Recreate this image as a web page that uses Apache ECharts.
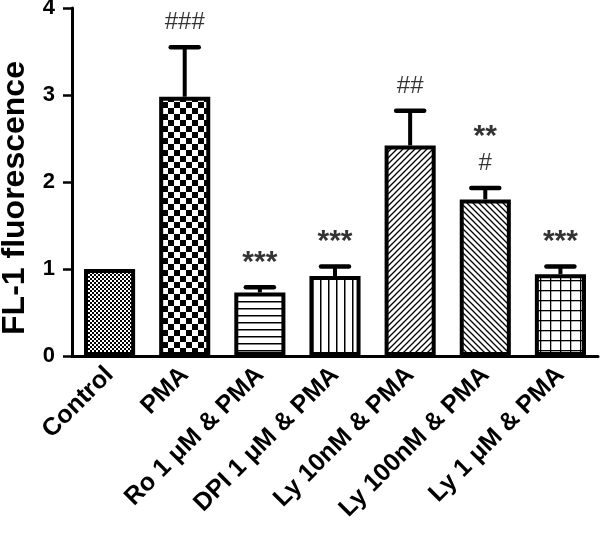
<!DOCTYPE html>
<html>
<head>
<meta charset="utf-8">
<script src="https://cdn.jsdelivr.net/npm/echarts@6/dist/echarts.min.js"></script>
<style>
  html, body { margin: 0; padding: 0; background: #fff; }
  #chart { width: 600px; height: 538px; }
</style>
</head>
<body>
<div id="chart"></div>
<script>
const categories = ['Control', 'PMA', 'Ro 1 μM & PMA', 'DPI 1 μM & PMA', 'Ly 10nM & PMA', 'Ly 100nM & PMA', 'Ly 1 μM & PMA']
const means = [1.0, 2.98, 0.73, 0.92, 2.42, 1.80, 0.94]
const errors = [0, 0.57, 0.06, 0.11, 0.40, 0.13, 0.09]
const marks = ['', '{h|###}', '{s|***}', '{s|***}', '{h|##}', '{s|**}\n{h|#}', '{s|***}']
const patterns = ['fine', 'checker', 'hlines', 'vlines', 'diag', 'anti', 'grid']
const yTicks = [0, 1, 2, 3, 4]

function makePattern(kind) {
  const c = document.createElement('canvas')
  const ctx = c.getContext('2d')
  const s = { fine: 4, checker: 12, hlines: 7, vlines: 8, diag: 6, anti: 6, grid: 10 }[kind]
  c.width = s; c.height = s
  ctx.fillStyle = '#fff'
  ctx.fillRect(0, 0, s, s)
  ctx.fillStyle = '#000'
  ctx.strokeStyle = '#000'
  ctx.lineWidth = 1.3
  if (kind === 'fine') {
    ctx.fillRect(0, 0, 2, 2); ctx.fillRect(2, 2, 2, 2)
  } else if (kind === 'checker') {
    ctx.fillRect(0, 0, 6, 6); ctx.fillRect(6, 6, 6, 6)
  } else if (kind === 'hlines') {
    ctx.fillRect(0, 0, s, 1.5)
  } else if (kind === 'vlines') {
    ctx.fillRect(0, 0, 1.5, s)
  } else if (kind === 'diag') {
    ctx.beginPath()
    ctx.moveTo(-1, s + 1); ctx.lineTo(s + 1, -1)
    ctx.moveTo(-1, 1); ctx.lineTo(1, -1)
    ctx.moveTo(s - 1, s + 1); ctx.lineTo(s + 1, s - 1)
    ctx.stroke()
  } else if (kind === 'anti') {
    ctx.beginPath()
    ctx.moveTo(-1, -1); ctx.lineTo(s + 1, s + 1)
    ctx.moveTo(s - 1, -1); ctx.lineTo(s + 1, 1)
    ctx.moveTo(-1, s - 1); ctx.lineTo(1, s + 1)
    ctx.stroke()
  } else if (kind === 'grid') {
    ctx.fillRect(0, 0, s, 1.3); ctx.fillRect(0, 0, 1.3, s)
  }
  return { image: c, repeat: 'repeat' }
}

const chart = echarts.init(document.getElementById('chart'))

const font = "'Liberation Sans', Arial, sans-serif"

const option = {
  animation: false,
  backgroundColor: '#fff',
  grid: { left: 72, right: 2, top: 8, bottom: 182, outerBoundsMode: 'none', containLabel: false },
  xAxis: {
    type: 'category',
    data: categories,
    axisLine: { lineStyle: { color: '#000', width: 3 } },
    axisTick: { alignWithLabel: true, length: 9, lineStyle: { color: '#000', width: 2.5 } },
    axisLabel: {
      rotate: 45, interval: 0, margin: 15,
      color: '#000', fontFamily: font, fontWeight: 'bold', fontSize: 25
    }
  },
  yAxis: {
    type: 'value',
    min: 0, max: 4, interval: 1,
    name: 'FL-1 fluorescence',
    nameLocation: 'middle',
    nameGap: 41,
    nameTextStyle: { color: '#000', fontFamily: font, fontWeight: 'bold', fontSize: 32, padding: [0, 32, 0, 0] },
    axisLine: { show: true, lineStyle: { color: '#000', width: 3 } },
    axisTick: { show: true, length: 9, lineStyle: { color: '#000', width: 2.5 } },
    axisLabel: {
      color: '#000', fontFamily: font, fontWeight: 'bold', fontSize: 22, margin: 17,
      showMaxLabel: true, hideOverlap: false,
      formatter: v => yTicks.includes(v) ? String(v) : ''
    },
    splitLine: { show: false }
  },
  series: [
    {
      type: 'bar',
      barWidth: '68%',
      z: 2,
      data: means.map((v, i) => ({
        value: v,
        itemStyle: { color: makePattern(patterns[i]), borderColor: '#000', borderWidth: 4 }
      }))
    },
    {
      type: 'custom',
      z: 3,
      renderItem: function (params, api) {
        const i = api.value(0)
        const top = api.coord([i, api.value(1) + api.value(2)])
        const base = api.coord([i, api.value(1)])
        const cap = 14
        if (api.value(2) <= 0) return { type: 'group', children: [] }
        return {
          type: 'group',
          children: [
            { type: 'line', shape: { x1: top[0], y1: base[1], x2: top[0], y2: top[1] }, style: { stroke: '#000', lineWidth: 4 } },
            { type: 'line', shape: { x1: top[0] - cap, y1: top[1], x2: top[0] + cap, y2: top[1] }, style: { stroke: '#000', lineWidth: 4.5, lineCap: 'round' } }
          ]
        }
      },
      data: means.map((v, i) => [i, v, errors[i]])
    },
    {
      type: 'scatter',
      symbolSize: 0,
      z: 4,
      data: means.map((v, i) => ({
        value: [i, v + errors[i]],
        label: {
          show: marks[i] !== '',
          position: 'top',
          distance: 11,
          formatter: marks[i],
          rich: {
            s: { color: '#000', fontFamily: font, fontWeight: 'bold', fontSize: 30, lineHeight: 27 },
            h: { color: '#000', fontFamily: font, fontSize: 24, lineHeight: 27 }
          }
        }
      }))
    }
  ]
}

chart.setOption(option)
</script>
</body>
</html>
